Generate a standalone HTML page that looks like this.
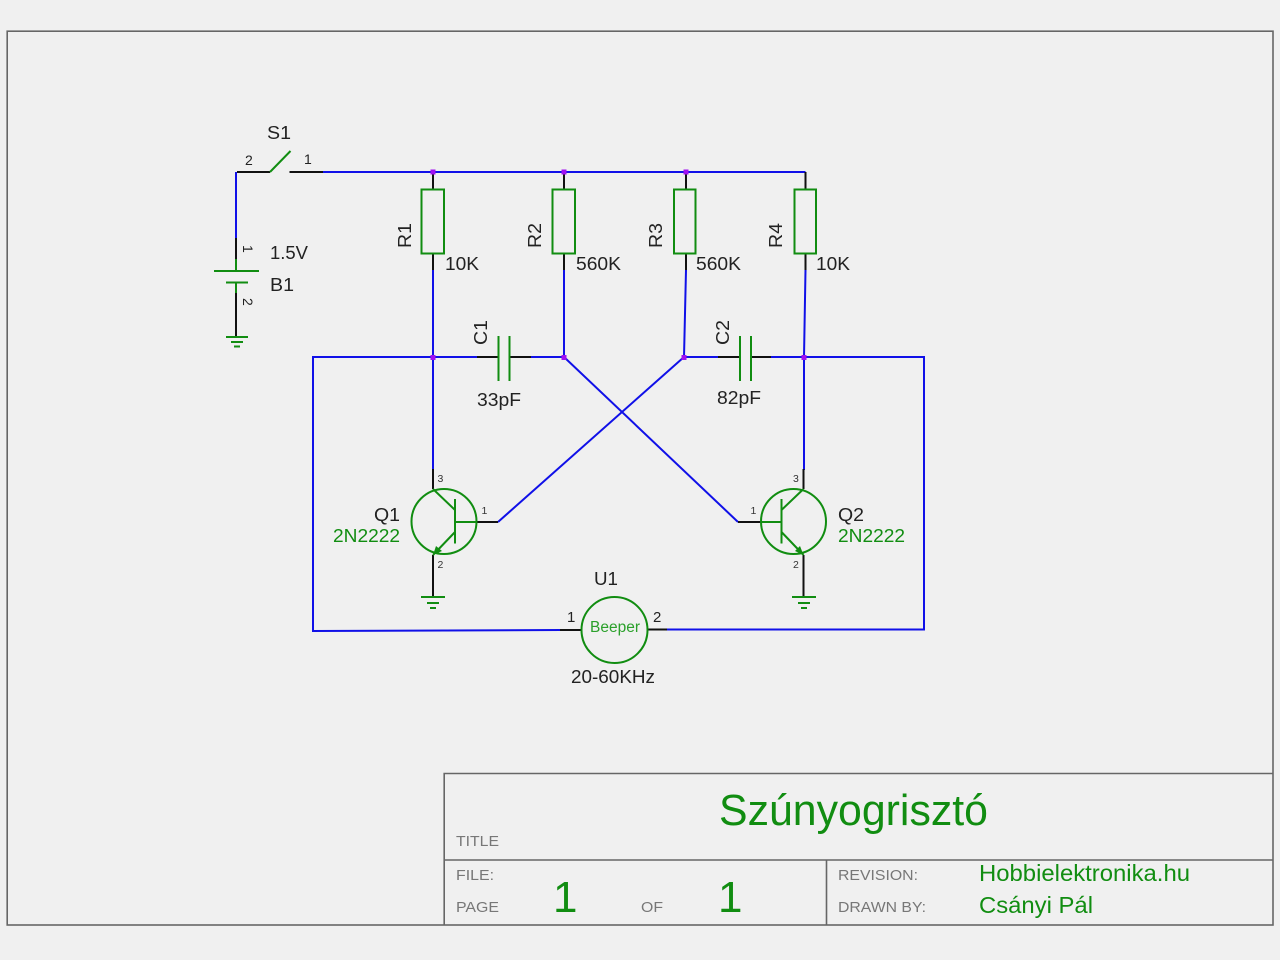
<!DOCTYPE html>
<html><head><meta charset="utf-8"><style>
html,body{margin:0;padding:0;background:#f0f0f0;width:1280px;height:960px;overflow:hidden}
svg{display:block}
text{font-family:"Liberation Sans",sans-serif}
.b{stroke:#1010e8;stroke-width:2;fill:none}
.k{stroke:#111;stroke-width:2;fill:none}
.g{stroke:#118d11;stroke-width:2;fill:none}
.f{stroke:#666;stroke-width:1.6;fill:none}
.l{font-size:18.5px;fill:#222}
.v{font-size:18.5px;fill:#118d11}
.p{font-size:14px;fill:#222}
.t{font-size:10.5px;fill:#333}
.h{font-size:15px;fill:#777}
</style></head><body>
<svg width="1280" height="960" viewBox="0 0 1280 960" xmlns="http://www.w3.org/2000/svg">
<rect width="1280" height="960" fill="#f0f0f0"/>
<!-- frame -->
<rect class="f" x="7.2" y="31.2" width="1265.8" height="893.8"/>
<path class="f" d="M444.200 925V773.500H1273M444.200 860H1273M826.500 860V925"/>
<!-- wires -->
<path class="b" d="M236 238V172M323 172H805.500M433 270V470M564 270V357M686 270L684 357M805.500 270L804 357M804 357V470M477 357H313V631L560 630M531 357H564M684 357H718M771 357H924V629.500H667M564 357L738 522M684 357L498 522"/>
<path class="k" d="M236 259V238M237 172H270M289.500 172H323M433 172V189M564 172V189M686 172V189M805.500 172V189M433 254V270M564 254V270M686 254V270M805.500 254V270M477 357H498M510 357H531M718 357H740M751 357H771M433 469V489M803.500 469V489M476 522H498M738 522H761M433 555V597M803.500 555V597M560 630H581M648 629.500H667M236 293V337"/>
<!-- S1 -->
<path class="g" d="M270 172L290.500 151"/>
<!-- B1 -->
<path class="g" d="M236 259V271M214 271H259M226 282.500H248M236 282.500V293"/>
<path class="g" d="M226 337H248M231 342H243M234 346.500H240"/>
<!-- Resistors -->
<rect class="g" x="421.500" y="189.500" width="22.500" height="64"/>
<rect class="g" x="552.500" y="189.500" width="22.500" height="64"/>
<rect class="g" x="674" y="189.500" width="21.500" height="64"/>
<rect class="g" x="794.500" y="189.500" width="21.500" height="64"/>
<!-- Caps -->
<path class="g" d="M498.500 336V381M509.500 336V381M740 336V381M751 336V381"/>
<!-- Q1 -->
<circle class="g" cx="444" cy="521.500" r="32.500"/>
<path class="g" d="M433 489L455 510M455 499V543.500M455 522H476M455 532L433 555"/>
<path d="M433 555L436 546L442 551Z" fill="#118d11"/>
<path class="g" d="M421 597H445M427 603H439M430 608H436"/>
<!-- Q2 -->
<circle class="g" cx="793.500" cy="521.500" r="32.500"/>
<path class="g" d="M803.500 489L781.500 510M781.500 499V543.500M781.500 522H761M781.500 532L803.500 555"/>
<path d="M803.500 555L795 551L800 546Z" fill="#118d11"/>
<path class="g" d="M792 597H816M798 603H810M801 608H807"/>
<!-- U1 -->
<circle class="g" cx="614.500" cy="630" r="33"/>
<!-- junctions -->
<g fill="#a010f0">
<rect x="430.500" y="169.500" width="5" height="5"/><rect x="561.500" y="169.500" width="5" height="5"/><rect x="683.500" y="169.500" width="5" height="5"/>
<rect x="430.500" y="355" width="5" height="5"/><rect x="561.500" y="355" width="5" height="5"/><rect x="681.500" y="355" width="5" height="5"/><rect x="801.500" y="355" width="5" height="5"/>
</g>
<!-- labels -->
<text class="l" x="267" y="139" textLength="24" lengthAdjust="spacingAndGlyphs">S1</text>
<text class="p" x="245" y="165">2</text>
<text class="p" x="304" y="164">1</text>
<text class="l" x="270" y="259" textLength="38" lengthAdjust="spacingAndGlyphs">1.5V</text>
<text class="l" x="270" y="291" textLength="24" lengthAdjust="spacingAndGlyphs">B1</text>
<text class="p" transform="translate(243,245) rotate(90)">1</text>
<text class="p" transform="translate(243,298) rotate(90)">2</text>
<text class="l" transform="translate(411,248) rotate(-90)" textLength="25" lengthAdjust="spacingAndGlyphs">R1</text>
<text class="l" transform="translate(541,248) rotate(-90)" textLength="25" lengthAdjust="spacingAndGlyphs">R2</text>
<text class="l" transform="translate(662,248) rotate(-90)" textLength="25" lengthAdjust="spacingAndGlyphs">R3</text>
<text class="l" transform="translate(782,248) rotate(-90)" textLength="25" lengthAdjust="spacingAndGlyphs">R4</text>
<text class="l" x="445" y="270" textLength="34" lengthAdjust="spacingAndGlyphs">10K</text>
<text class="l" x="576" y="270" textLength="45" lengthAdjust="spacingAndGlyphs">560K</text>
<text class="l" x="696" y="270" textLength="45" lengthAdjust="spacingAndGlyphs">560K</text>
<text class="l" x="816" y="270" textLength="34" lengthAdjust="spacingAndGlyphs">10K</text>
<text class="l" transform="translate(487,345) rotate(-90)" textLength="25" lengthAdjust="spacingAndGlyphs">C1</text>
<text class="l" transform="translate(729,345) rotate(-90)" textLength="25" lengthAdjust="spacingAndGlyphs">C2</text>
<text class="l" x="477" y="406" textLength="44" lengthAdjust="spacingAndGlyphs">33pF</text>
<text class="l" x="717" y="404" textLength="44" lengthAdjust="spacingAndGlyphs">82pF</text>
<text class="l" x="374" y="521" textLength="26" lengthAdjust="spacingAndGlyphs">Q1</text>
<text class="v" x="333" y="542" textLength="67" lengthAdjust="spacingAndGlyphs">2N2222</text>
<text class="l" x="838" y="521" textLength="26" lengthAdjust="spacingAndGlyphs">Q2</text>
<text class="v" x="838" y="542" textLength="67" lengthAdjust="spacingAndGlyphs">2N2222</text>
<text class="t" x="437.500" y="482">3</text>
<text class="t" x="437.500" y="568">2</text>
<text class="t" x="481.500" y="514">1</text>
<text class="t" x="793" y="482">3</text>
<text class="t" x="793" y="568">2</text>
<text class="t" x="750.500" y="514">1</text>
<text class="l" x="594" y="585" textLength="24" lengthAdjust="spacingAndGlyphs">U1</text>
<text class="p" x="567" y="622" style="font-size:15px">1</text>
<text class="p" x="653" y="622" style="font-size:15px">2</text>
<text x="590" y="632" font-size="15.500" fill="#2ba02b" textLength="50" lengthAdjust="spacingAndGlyphs">Beeper</text>
<text class="l" x="571" y="683" textLength="84" lengthAdjust="spacingAndGlyphs">20-60KHz</text>
<!-- title block -->
<text class="h" x="456" y="846" textLength="43" lengthAdjust="spacingAndGlyphs">TITLE</text>
<text x="719" y="825" font-size="44" fill="#118d11" textLength="269" lengthAdjust="spacingAndGlyphs">Szúnyogrisztó</text>
<text class="h" x="456" y="880" textLength="38" lengthAdjust="spacingAndGlyphs">FILE:</text>
<text class="h" x="456" y="912" textLength="43" lengthAdjust="spacingAndGlyphs">PAGE</text>
<text class="h" x="641" y="912" textLength="22" lengthAdjust="spacingAndGlyphs">OF</text>
<text x="553" y="912" font-size="44" fill="#118d11">1</text>
<text x="718" y="912" font-size="44" fill="#118d11">1</text>
<text class="h" x="838" y="880" textLength="80" lengthAdjust="spacingAndGlyphs">REVISION:</text>
<text class="h" x="838" y="912" textLength="88" lengthAdjust="spacingAndGlyphs">DRAWN BY:</text>
<text x="979" y="881" font-size="23.500" fill="#118d11" textLength="211" lengthAdjust="spacingAndGlyphs">Hobbielektronika.hu</text>
<text x="979" y="913" font-size="23.500" fill="#118d11" textLength="114" lengthAdjust="spacingAndGlyphs">Csányi Pál</text>
</svg>
</body></html>
